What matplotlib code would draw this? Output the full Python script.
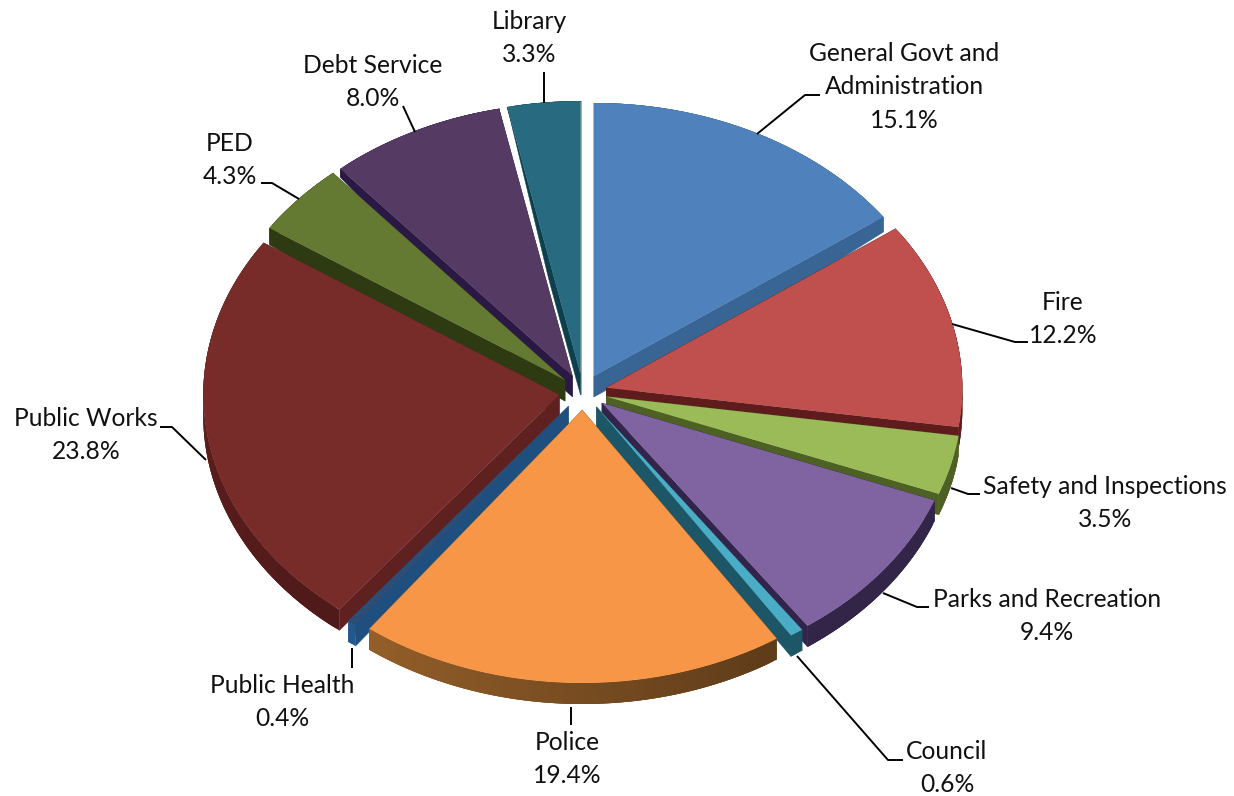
import matplotlib
matplotlib.use("Agg")
import matplotlib.pyplot as plt
import numpy as np

names = ["General Govt and\nAdministration", "Fire", "Safety and Inspections", "Parks and Recreation",
         "Council", "Police", "Public Health", "Public Works", "PED", "Debt Service", "Library"]
shares = [15.1, 12.2, 3.5, 9.4, 0.6, 19.4, 0.4, 23.8, 4.3, 8.0, 3.3]
tops = ["#4f81bd", "#c0504d", "#9bbb59", "#8064a2", "#4bacc6", "#f79646",
        "#2c4d75", "#772c2a", "#647a32", "#553a63", "#286b80"]
cuts = ["#386594", "#5e1d1c", "#4d6124", "#33244c", "#1d5666", "#8a5524",
        "#1f4f7e", "#5f2120", "#2e3a12", "#2a1845", "#0e3f4d"]
rims_start = ["#386594", "#5e1d1c", "#4d6124", "#332548", "#1d5666", "#5f3c1a",
              "#25588a", "#4f1a1a", "#2e3a12", "#2a1845", "#0e3f4d"]
rims_end = ["#386594", "#5e1d1c", "#4d6124", "#332548", "#1d5666", "#945f29",
            "#25588a", "#66201f", "#2e3a12", "#2a1845", "#0e3f4d"]

# label text centre and the leader line running from the pie to it
label_xy = [(904, 87), (1063, 319), (1105, 503), (1047, 616), (947, 768), (567, 759),
            (282, 702), (86, 435), (230, 160), (373, 82), (529, 38)]
leaders = [[(757, 134), (805, 95), (820, 95)],
           [(952, 324), (1015, 342), (1028, 342)],
           [(951, 488), (968, 494), (980, 494)],
           [(883, 593), (917, 607), (929, 607)],
           [(797, 656), (888, 760), (903, 760)],
           [(571, 707), (571, 725)],
           [(352, 648), (352, 668)],
           [(206, 460), (172, 427), (160, 427)],
           [(299, 199), (272, 183), (261, 183)],
           [(415, 132), (403, 106)],
           [(544, 103), (544, 72)]]

cx, cy = 583, 392
rx, ry = 356, 273
ex, ey = 24, 18


def depth(y):
    # extrusion looks shallower towards the back of the tilted pie
    return np.clip((np.asarray(y) - 108) * 0.14, 1, 21)


def blend(color_a, color_b, f):
    a = np.array(matplotlib.colors.to_rgb(color_a))
    b = np.array(matplotlib.colors.to_rgb(color_b))
    return tuple(a + (b - a) * f)


fig = plt.figure(figsize=(12.34, 7.96), dpi=100)
ax = fig.add_axes([0, 0, 1, 1])
ax.set_xlim(0, 1234)
ax.set_ylim(796, 0)
ax.axis("off")

edges = np.cumsum([0] + shares) / sum(shares) * 2 * np.pi
mids = (edges[:-1] + edges[1:]) / 2

# painter's order: back of the pie first
order = np.argsort(-np.cos(mids))
for rank, i in enumerate(order):
    base = 10 * rank
    apex_x = cx + ex * np.sin(mids[i])
    apex_y = cy - ey * np.cos(mids[i])
    n = max(int((edges[i + 1] - edges[i]) * 80), 3)
    t = np.linspace(edges[i], edges[i + 1], n)
    rim_x = apex_x + rx * np.sin(t)
    rim_y = apex_y - ry * np.cos(t)

    # cut faces
    for j in (0, -1):
        s = np.linspace(0, 1, 30)
        fx = apex_x + (rim_x[j] - apex_x) * s
        fy = apex_y + (rim_y[j] - apex_y) * s
        ax.fill(np.r_[fx, fx[::-1]], np.r_[fy, (fy + depth(fy))[::-1]],
                color=cuts[i], lw=0.3, zorder=base + 1)

    # outer rim, shaded along its length; each strip overlaps the next to hide seams
    for k in range(n - 1):
        c = blend(rims_start[i], rims_end[i], k / max(n - 2, 1))
        m = min(k + 3, n - 1)
        xs = np.r_[rim_x[k:m + 1], rim_x[k:m + 1][::-1]]
        ys = np.r_[rim_y[k:m + 1], (rim_y[k:m + 1] + depth(rim_y[k:m + 1]))[::-1]]
        ax.fill(xs, ys, color=c, lw=0, zorder=base + 2 + (n - k) / n)

    ax.fill(np.r_[apex_x, rim_x], np.r_[apex_y, rim_y], color=tops[i], lw=0, zorder=base + 4)

for pts in leaders:
    xs, ys = zip(*pts)
    ax.plot(xs, ys, color="black", lw=1.4, zorder=500, solid_capstyle="butt")

for name, share, (lx, ly) in zip(names, shares, label_xy):
    ax.text(lx, ly, f"{name}\n{share:.1f}%", ha="center", va="center", fontsize=17.7,
            family="Lato", color="#111111", linespacing=1.55, zorder=600)

fig.savefig("out.png", dpi=100)
